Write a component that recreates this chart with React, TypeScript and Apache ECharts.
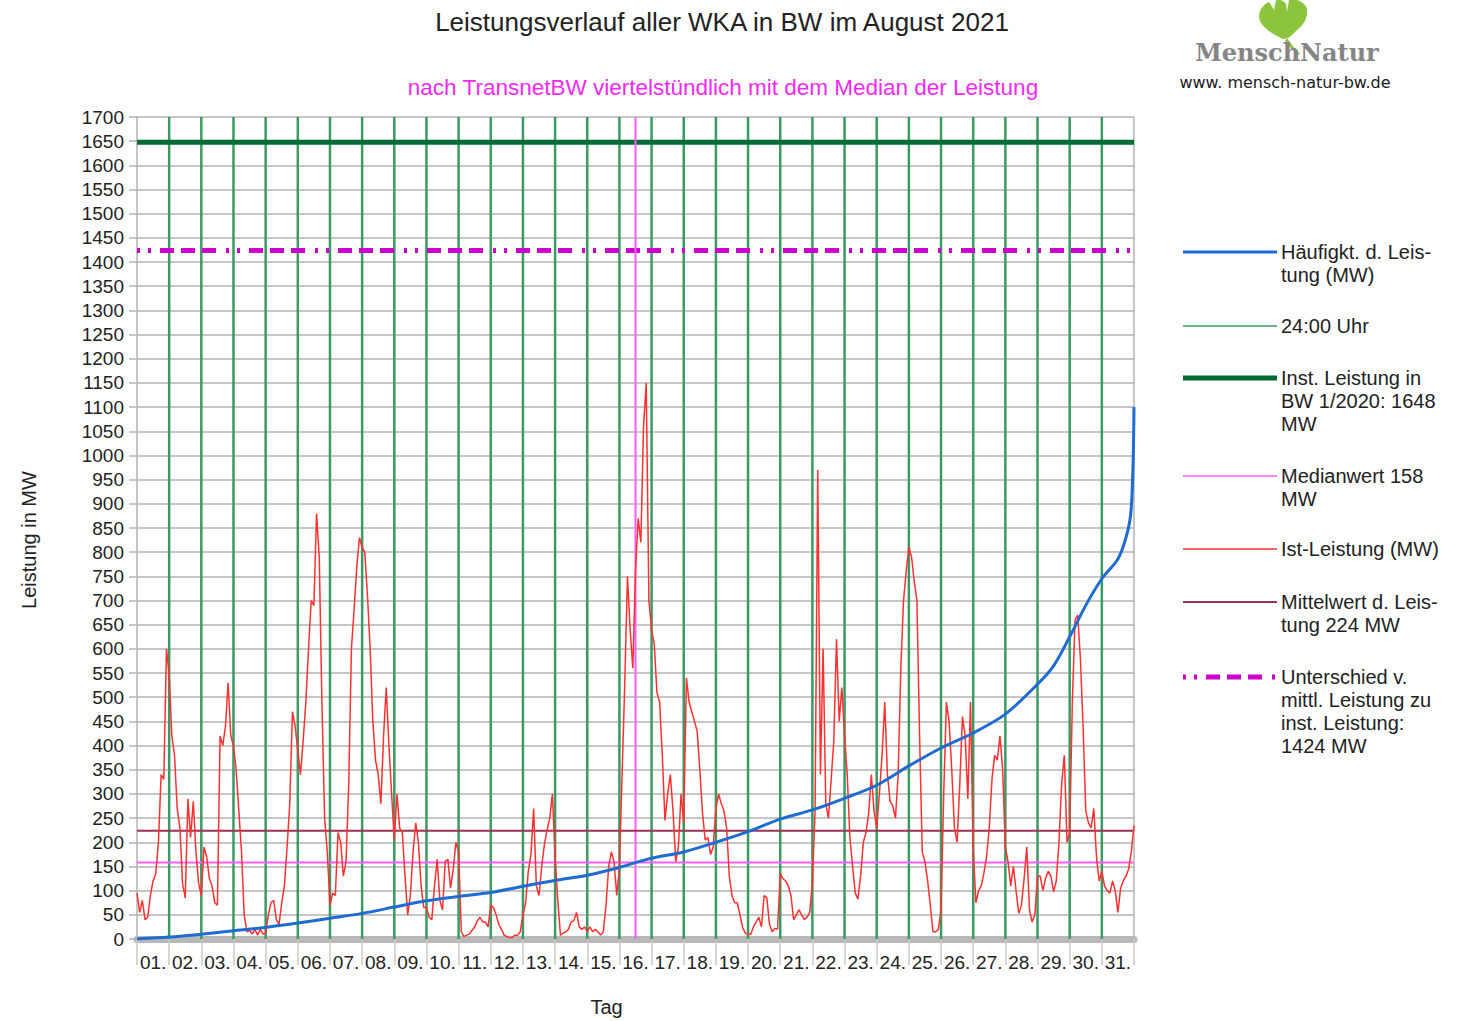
import React, { useEffect, useRef } from "react";
import * as echarts from "echarts";

// ---------- data ----------
const dayLabels = [
  "01.", "02.", "03.", "04.", "05.", "06.", "07.", "08.", "09.", "10.",
  "11.", "12.", "13.", "14.", "15.", "16.", "17.", "18.", "19.", "20.",
  "21.", "22.", "23.", "24.", "25.", "26.", "27.", "28.", "29.", "30.", "31.",
];

// Ist-Leistung (MW), sampled every 2 hours (0h, 2h, ... 22h) per day
const istPerDay: number[][] = [
  [95, 55, 80, 40, 45, 90, 120, 135, 200, 340, 330, 600], // 01
  [546, 420, 380, 270, 230, 115, 85, 290, 210, 285, 180, 115], // 02
  [90, 190, 170, 125, 110, 75, 70, 420, 400, 440, 530, 420], // 03
  [400, 350, 265, 180, 50, 15, 18, 10, 20, 8, 20, 10], // 04
  [12, 50, 75, 80, 40, 30, 75, 110, 190, 280, 470, 440], // 05
  [390, 340, 410, 490, 600, 700, 690, 880, 790, 490, 250, 180], // 06
  [70, 95, 90, 220, 200, 130, 160, 320, 600, 680, 770, 830], // 07
  [810, 800, 710, 600, 450, 370, 340, 280, 420, 520, 400, 300], // 08
  [205, 300, 230, 220, 130, 50, 90, 180, 240, 200, 110, 65], // 09
  [65, 45, 40, 110, 165, 80, 60, 160, 165, 105, 145, 200], // 10
  [180, 15, 5, 8, 10, 18, 25, 38, 45, 35, 35, 25], // 11
  [70, 65, 50, 30, 20, 8, 5, 3, 3, 8, 8, 15], // 12
  [50, 75, 140, 175, 270, 110, 90, 150, 195, 225, 250, 300], // 13
  [170, 80, 8, 12, 15, 20, 35, 38, 55, 25, 20, 25], // 14
  [15, 25, 15, 20, 15, 8, 15, 70, 150, 180, 160, 90], // 15
  [150, 340, 530, 750, 640, 560, 760, 870, 820, 1060, 1150, 700], // 16
  [640, 610, 510, 490, 380, 245, 300, 340, 265, 160, 190, 300], // 17
  [240, 540, 490, 470, 450, 430, 350, 260, 205, 210, 175, 190], // 18
  [270, 300, 280, 265, 230, 130, 90, 75, 75, 50, 23, 12], // 19
  [10, 10, 25, 35, 45, 25, 90, 85, 30, 15, 22, 20], // 20
  [135, 125, 120, 110, 90, 40, 50, 60, 50, 40, 45, 55], // 21
  [115, 265, 970, 340, 600, 280, 250, 330, 410, 620, 450, 520], // 22
  [420, 340, 210, 150, 95, 83, 130, 200, 220, 260, 340, 265], // 23
  [230, 300, 380, 490, 340, 285, 275, 250, 340, 560, 700, 760], // 24
  [810, 790, 740, 700, 420, 180, 160, 120, 70, 15, 15, 20], // 25
  [60, 300, 490, 450, 350, 230, 200, 320, 460, 420, 290, 490], // 26
  [190, 75, 100, 110, 136, 170, 230, 330, 380, 370, 420, 350], // 27
  [190, 160, 110, 150, 100, 53, 70, 125, 190, 60, 35, 50], // 28
  [130, 130, 100, 125, 140, 130, 98, 120, 200, 320, 380, 200], // 29
  [220, 490, 660, 670, 580, 440, 265, 240, 230, 270, 170, 120], // 30
  [140, 110, 100, 95, 120, 100, 55, 105, 120, 130, 145, 180], // 31
];
const istEndValue = 235; // 31.08. 24:00

// Häufigkeit der Leistung (sorted duration curve), position in days
const haeufigX = [0, 1, 2, 3, 4, 5, 6, 7, 8, 9, 10, 11, 12, 13, 14, 15, 15.5, 16, 17, 18, 19, 20, 21, 22, 23, 24, 25, 26, 27, 28, 28.5, 29, 29.5, 30, 30.5, 30.75, 30.9, 30.97, 31];
const haeufigY = [0, 4, 10, 17, 24, 33, 43, 53, 66, 79, 88, 96, 109, 121, 132, 148, 158, 167, 180, 200, 222, 248, 267, 291, 318, 358, 395, 426, 465, 527, 565, 625, 690, 745, 786, 830, 880, 980, 1100];

const instLeistung = 1648;
const unterschied = 1424;
const medianWert = 158;
const mittelWert = 224;
const medianDay = 15.5;
const midnightDays = [1, 2, 3, 4, 5, 6, 7, 8, 9, 10, 11, 12, 13, 14, 15, 16, 17, 18, 19, 20, 21, 22, 23, 24, 25, 26, 27, 28, 29, 30];
const yMax = 1700;

// ---------- styles ----------
const FONT = '"Liberation Sans", Arial, sans-serif';
const TXT = "#222222";
const C_BLUE = "#1f6cd0";
const C_GREEN = "#3a9a64";
const C_DKGREEN = "#006b33";
const C_MAGENTA = "#ff5cff";
const C_DASH = "#cc00cc";
const C_RED = "#ff3030";
const C_MEAN = "#993350";
const DASH = [3, 8, 3, 9, 14, 7, 14, 7, 14, 10];

const GRID = { left: 137, right: 331, top: 117, bottom: 82, outerBoundsMode: "none" };

const LEAF =
  "M27 40 C19 36 6 30 2 21 C-1 13 4 5 11 2 L16 10 L18 0 C22 -1 26 1 28 4 L29 12 L31 0 C38 -2 47 2 49 9 C50 17 46 25 39 30 C35 34 31 38 27 40 Z " +
  "M26 39 Q31 47 40 55 L42 54 Q34 46 29 38 Z";
echarts.graphic.registerShape("ginkgo", (echarts.graphic as any).extendPath(LEAF, {}));

function legendItem(y: number, text: string, line: any) {
  return [
    {
      type: "line",
      shape: { x1: 1183, y1: y, x2: 1277, y2: y },
      style: line,
      silent: true,
    },
    {
      type: "text",
      x: 1281,
      y: y - 12,
      style: {
        text,
        fontFamily: FONT,
        fontSize: 20,
        lineHeight: 23,
        fill: TXT,
        verticalAlign: "top",
        align: "left",
      },
    },
  ];
}

export default function App() {
  const ref = useRef<HTMLDivElement>(null);

  useEffect(() => {
    if (!ref.current) return;
    const chart = echarts.init(ref.current, undefined, { renderer: "svg" });

    const istData: number[][] = [];
    istPerDay.forEach((vals, d) => {
      vals.forEach((v, i) => istData.push([d + i / vals.length, v]));
    });
    istData.push([istPerDay.length, istEndValue]);

    // vertical 24:00 lines, separated by gaps
    const greenData: any[] = [];
    midnightDays.forEach((d) => {
      greenData.push([d, 0], [d, yMax], [d, "-"]);
    });

    const blueData = haeufigX.map((x, i) => [x, haeufigY[i]]);

    const hline = (v: number) => [[0, v], [31, v]];

    const option: any = {
      animation: false,
      backgroundColor: "#ffffff",
      grid: GRID,
      xAxis: [
        {
          type: "category",
          data: dayLabels,
          boundaryGap: true,
          position: "bottom",
          offset: 4,
          axisLine: { show: true, lineStyle: { color: "#b8b8b8", width: 7 } },
          axisTick: { show: true, interval: 0, length: 26, lineStyle: { color: "#c8c8c8", width: 1.5 } },
          axisLabel: { interval: 0, fontSize: 19, color: TXT, fontFamily: FONT, margin: 10 },
          splitLine: { show: false },
          name: "Tag",
          nameLocation: "middle",
          nameGap: 54,
          nameTextStyle: { fontSize: 20, color: TXT, fontFamily: FONT, padding: [0, 58, 0, 0] },
        },
        {
          type: "value",
          min: 0,
          max: 31,
          show: false,
        },
      ],
      yAxis: [
        {
          type: "value",
          min: 0,
          max: yMax,
          interval: 50,
          axisLine: { show: true, lineStyle: { color: "#b3b3b3", width: 1.5 } },
          axisTick: { show: true, length: 8, lineStyle: { color: "#b3b3b3", width: 1.5 } },
          axisLabel: {
            fontSize: 19,
            color: TXT,
            fontFamily: FONT,
            margin: 13,
            formatter: (v: number) => String(v),
          },
          splitLine: { show: true, lineStyle: { color: "#b3b3b3", width: 1.5 } },
          name: "Leistung in MW",
          nameLocation: "middle",
          nameGap: 98,
          nameRotate: 90,
          nameTextStyle: { fontSize: 20, color: TXT, fontFamily: FONT, padding: [0, 24, 0, 0] },
        },
        {
          type: "value",
          min: 0,
          max: yMax,
          position: "right",
          axisLine: { show: true, lineStyle: { color: "#b3b3b3", width: 1.5 } },
          axisTick: { show: false },
          axisLabel: { show: false },
          splitLine: { show: false },
        },
      ],
      series: [
        {
          name: "24:00 Uhr",
          type: "line",
          xAxisIndex: 1,
          data: greenData,
          symbol: "none",
          connectNulls: false,
          lineStyle: { color: C_GREEN, width: 2.5 },
          z: 2,
        },
        {
          name: "Inst. Leistung",
          type: "line",
          xAxisIndex: 1,
          data: hline(instLeistung),
          symbol: "none",
          lineStyle: { color: C_DKGREEN, width: 5 },
          z: 3,
        },
        {
          name: "Unterschied",
          type: "line",
          xAxisIndex: 1,
          data: hline(unterschied),
          symbol: "none",
          lineStyle: { color: C_DASH, width: 5, type: DASH },
          z: 3,
        },
        {
          name: "Medianwert",
          type: "line",
          xAxisIndex: 1,
          data: hline(medianWert),
          symbol: "none",
          lineStyle: { color: C_MAGENTA, width: 2 },
          z: 3,
        },
        {
          name: "Median Zeit",
          type: "line",
          xAxisIndex: 1,
          data: [[medianDay, 0], [medianDay, yMax]],
          symbol: "none",
          lineStyle: { color: C_MAGENTA, width: 2 },
          z: 3,
        },
        {
          name: "Mittelwert",
          type: "line",
          xAxisIndex: 1,
          data: hline(mittelWert),
          symbol: "none",
          lineStyle: { color: C_MEAN, width: 2 },
          z: 3,
        },
        {
          name: "Ist-Leistung (MW)",
          type: "line",
          xAxisIndex: 1,
          data: istData,
          symbol: "none",
          lineStyle: { color: C_RED, width: 1.5 },
          z: 4,
        },
        {
          name: "Häufigkt. d. Leistung (MW)",
          type: "line",
          xAxisIndex: 1,
          data: blueData,
          symbol: "none",
          smooth: 0.3,
          lineStyle: { color: C_BLUE, width: 3 },
          z: 5,
        },
      ],
      graphic: [
        {
          type: "text",
          x: 722,
          y: 22,
          style: {
            text: "Leistungsverlauf aller WKA in BW im August 2021",
            fontFamily: FONT,
            fontSize: 26,
            fill: TXT,
            align: "center",
            verticalAlign: "middle",
          },
        },
        {
          type: "text",
          x: 723,
          y: 87,
          style: {
            text: "nach TransnetBW viertelstündlich mit dem Median der Leistung",
            fontFamily: FONT,
            fontSize: 22.5,
            fill: "#f02af0",
            align: "center",
            verticalAlign: "middle",
          },
        },
        // logo
        {
          type: "ginkgo",
          x: 1258,
          y: 0,
          style: { fill: "#8cc43c" },
        },
        {
          type: "text",
          x: 1287,
          y: 52,
          style: {
            text: "MenschNatur",
            fontFamily: '"DejaVu Serif", "Liberation Serif", serif',
            fontSize: 24,
            fontWeight: "bold",
            fill: "#858585",
            align: "center",
            verticalAlign: "middle",
          },
        },
        {
          type: "text",
          x: 1285,
          y: 82,
          style: {
            text: "www. mensch-natur-bw.de",
            fontFamily: '"DejaVu Sans", sans-serif',
            fontSize: 16,
            fill: "#1a1a1a",
            align: "center",
            verticalAlign: "middle",
          },
        },
        // legend
        ...legendItem(252, "Häufigkt. d. Leis-\ntung (MW)", { stroke: C_BLUE, lineWidth: 3 }),
        ...legendItem(326, "24:00 Uhr", { stroke: C_GREEN, lineWidth: 1.5 }),
        ...legendItem(378, "Inst. Leistung in\nBW 1/2020: 1648\nMW", { stroke: C_DKGREEN, lineWidth: 5 }),
        ...legendItem(476, "Medianwert 158\nMW", { stroke: C_MAGENTA, lineWidth: 1.5 }),
        ...legendItem(549, "Ist-Leistung (MW)", { stroke: C_RED, lineWidth: 1.5 }),
        ...legendItem(602, "Mittelwert d. Leis-\ntung 224 MW", { stroke: C_MEAN, lineWidth: 2 }),
        ...legendItem(677, "Unterschied v.\nmittl. Leistung zu\ninst. Leistung:\n1424 MW", { stroke: C_DASH, lineWidth: 5, lineDash: DASH }),
      ],
    };

    chart.setOption(option);
    return () => chart.dispose();
  }, []);

  return (
    <div
      ref={ref}
      style={{ position: "fixed", left: 0, top: 0, width: 1465, height: 1021, background: "#fff" }}
    />
  );
}
